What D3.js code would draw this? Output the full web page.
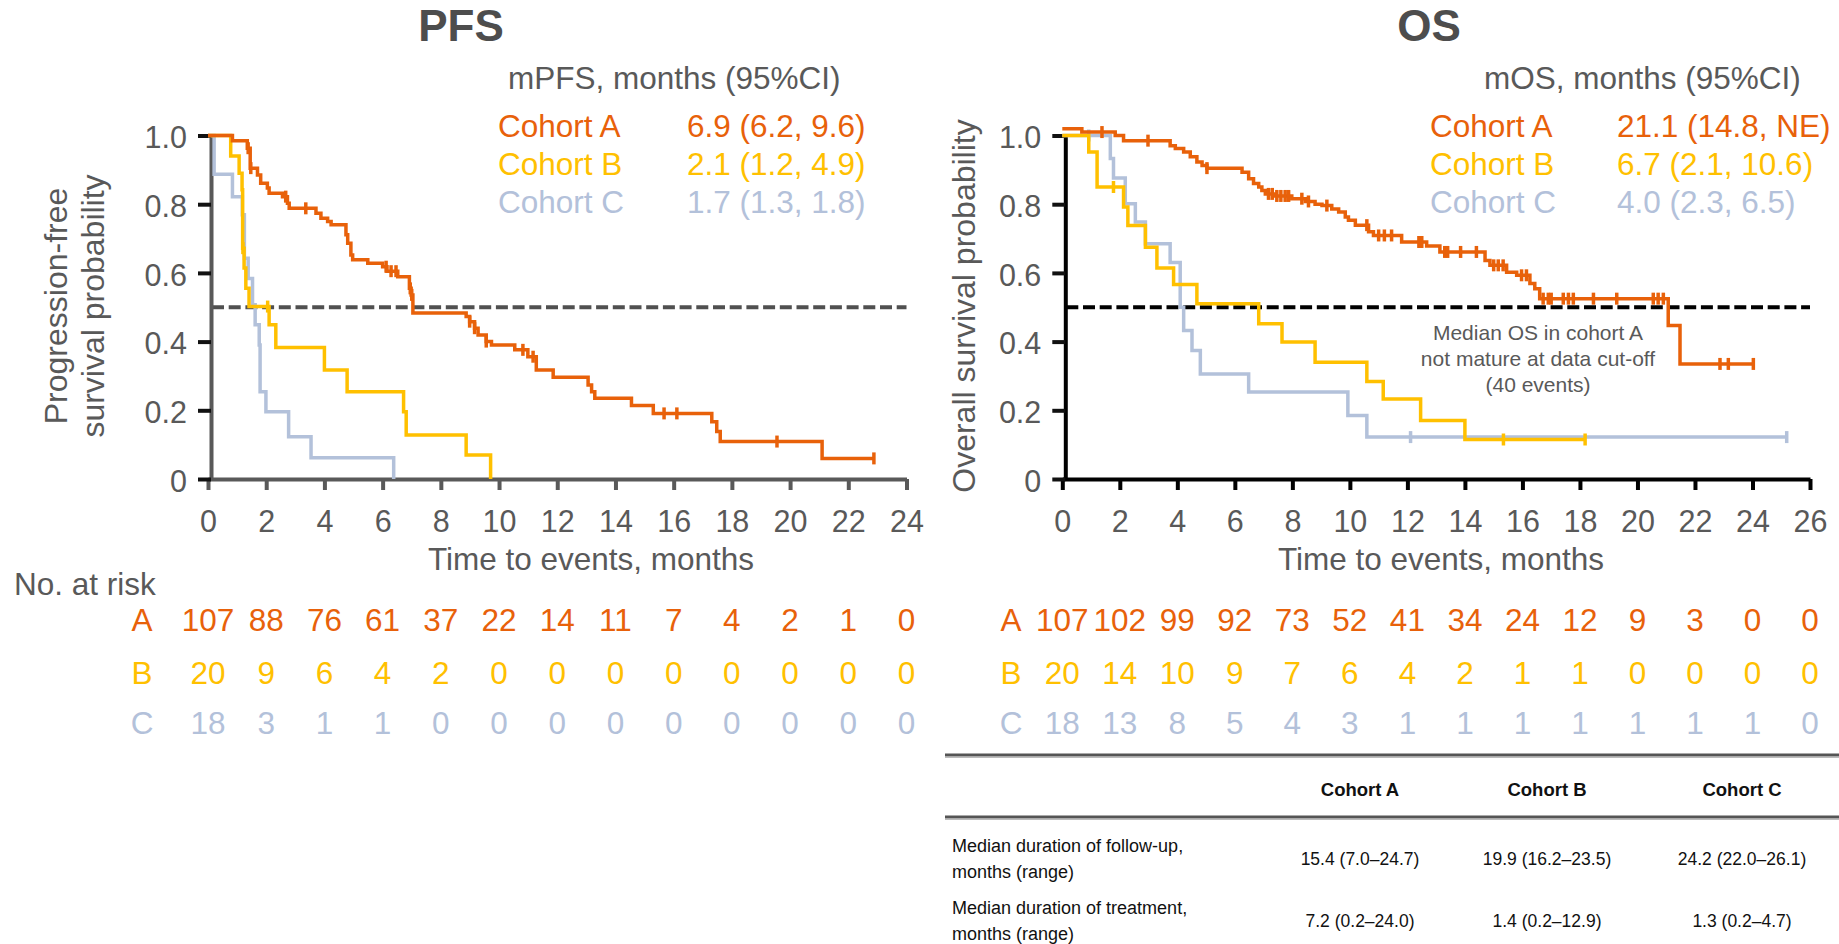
<!DOCTYPE html>
<html>
<head>
<meta charset="utf-8">
<script src="https://cdn.jsdelivr.net/npm/d3@7"></script>
<style>
  body { margin: 0; background: #fff; }
  text { font-family: "Liberation Sans", Arial, sans-serif; }
</style>
</head>
<body>
<div id="chart"></div>
<script>
// ---- values ----
var cohortNames = ["Cohort A", "Cohort B", "Cohort C"];
var riskLetters = ["A", "B", "C"];
var colors = ["#e8610a", "#ffc000", "#b3c1da"];

var yTicks = [0, 0.2, 0.4, 0.6, 0.8, 1.0];
var pfsTicks = [0, 2, 4, 6, 8, 10, 12, 14, 16, 18, 20, 22, 24];
var osTicks = [0, 2, 4, 6, 8, 10, 12, 14, 16, 18, 20, 22, 24, 26];

var pfsMedians = ["6.9 (6.2, 9.6)", "2.1 (1.2, 4.9)", "1.7 (1.3, 1.8)"];
var osMedians = ["21.1 (14.8, NE)", "6.7 (2.1, 10.6)", "4.0 (2.3, 6.5)"];

// Kaplan-Meier steps: [month, probability after the step]
var pfsA = [[0, 1.0], [0.84, 0.985], [1.35, 0.963], [1.45, 0.905], [1.70, 0.885], [1.81, 0.861],
  [2.04, 0.847], [2.10, 0.832], [2.56, 0.822], [2.73, 0.803], [2.79, 0.788], [3.71, 0.774],
  [3.88, 0.759], [4.11, 0.75], [4.23, 0.74], [4.74, 0.711], [4.80, 0.686], [4.91, 0.652],
  [4.97, 0.638], [5.49, 0.628], [6.00, 0.618], [6.15, 0.605], [6.52, 0.589], [6.92, 0.555],
  [6.98, 0.536], [7.04, 0.483], [8.87, 0.473], [8.99, 0.458], [9.16, 0.439], [9.28, 0.419],
  [9.56, 0.40], [9.74, 0.39], [10.54, 0.376], [10.99, 0.356], [11.28, 0.317], [11.86, 0.296],
  [13.06, 0.274], [13.18, 0.254], [13.29, 0.235], [14.55, 0.214], [15.30, 0.191], [17.31, 0.167],
  [17.48, 0.138], [17.60, 0.109], [21.10, 0.06]];
var pfsACensor = [1.38, 1.47, 2.67, 3.36, 6.12, 6.29, 6.46, 6.95, 7.0, 8.99, 9.16, 9.56,
  10.82, 11.17, 15.67, 16.11, 19.55, 22.88];
var pfsB = [[0, 1.0], [0.78, 0.94], [1.07, 0.89], [1.17, 0.842], [1.19, 0.672], [1.24, 0.614],
  [1.30, 0.555], [1.41, 0.502], [2.10, 0.449], [2.33, 0.383], [4.00, 0.317], [4.78, 0.254],
  [6.72, 0.196], [6.81, 0.128], [8.87, 0.07], [9.71, 0]];
var pfsBCensor = [1.2, 2.05];
var pfsC = [[0, 1.0], [0.21, 0.887], [0.84, 0.822], [1.18, 0.769], [1.25, 0.643], [1.38, 0.584],
  [1.53, 0.507], [1.62, 0.449], [1.76, 0.39], [1.79, 0.254], [1.99, 0.196], [2.77, 0.123],
  [3.54, 0.062], [6.38, 0]];
var pfsCCensor = [];
var pfsEnds = [22.88, 9.71, 6.38];

var osA = [[0, 1.02], [0.68, 1.01], [1.84, 1.0], [2.13, 0.985], [3.75, 0.97], [3.93, 0.962],
  [4.22, 0.952], [4.45, 0.938], [4.68, 0.923], [4.86, 0.913], [5.03, 0.905], [6.25, 0.893],
  [6.48, 0.874], [6.65, 0.86], [6.83, 0.85], [6.94, 0.84], [7.06, 0.83], [7.40, 0.824],
  [7.98, 0.816], [8.45, 0.808], [8.79, 0.80], [9.03, 0.796], [9.37, 0.786], [9.61, 0.777],
  [9.84, 0.763], [9.95, 0.753], [10.19, 0.739], [10.65, 0.72], [10.82, 0.709], [11.8, 0.69],
  [12.67, 0.678], [13.13, 0.661], [14.7, 0.636], [14.87, 0.622], [15.45, 0.602], [15.8, 0.593],
  [16.26, 0.569], [16.43, 0.554], [16.6, 0.525], [21.07, 0.447], [21.48, 0.335]];
var osACensor = [1.38, 2.98, 5.03, 7.17, 7.3, 7.46, 7.6, 7.75, 7.87, 8.33, 8.56, 9.2, 10.59,
  11.0, 11.2, 11.45, 12.4, 12.5, 13.3, 13.4, 13.85, 14.4, 15.0, 15.16, 15.33, 15.97, 16.14,
  16.72, 16.9, 17.0, 17.42, 17.6, 17.77, 18.47, 19.28, 20.55, 20.72, 20.9, 22.87, 23.16, 24.03];
var osB = [[0, 1.0], [0.92, 0.952], [1.21, 0.85], [2.13, 0.792], [2.28, 0.738], [2.89, 0.675],
  [3.29, 0.614], [3.87, 0.566], [4.68, 0.51], [6.83, 0.452], [7.64, 0.399], [8.79, 0.34],
  [10.59, 0.284], [11.16, 0.233], [12.46, 0.17], [14.0, 0.115]];
var osBCensor = [1.78, 15.34, 18.18];
var osC = [[0, 1.0], [1.67, 0.933], [1.78, 0.876], [2.19, 0.801], [2.54, 0.748], [2.89, 0.685],
  [3.75, 0.63], [4.10, 0.5], [4.22, 0.432], [4.51, 0.374], [4.80, 0.306], [6.48, 0.253],
  [9.93, 0.185], [10.59, 0.122]];
var osCCensor = [0.92, 12.11, 25.19];
var osEnds = [24.03, 18.18, 25.19];

// numbers at risk
var pfsRiskA = [107, 88, 76, 61, 37, 22, 14, 11, 7, 4, 2, 1, 0];
var pfsRiskB = [20, 9, 6, 4, 2, 0, 0, 0, 0, 0, 0, 0, 0];
var pfsRiskC = [18, 3, 1, 1, 0, 0, 0, 0, 0, 0, 0, 0, 0];
var osRiskA = [107, 102, 99, 92, 73, 52, 41, 34, 24, 12, 9, 3, 0, 0];
var osRiskB = [20, 14, 10, 9, 7, 6, 4, 2, 1, 1, 0, 0, 0, 0];
var osRiskC = [18, 13, 8, 5, 4, 3, 1, 1, 1, 1, 1, 1, 1, 0];

// summary table
var tableHead = ["Cohort A", "Cohort B", "Cohort C"];
var tableRowLabels = [["Median duration of follow-up,", "months (range)"],
                      ["Median duration of treatment,", "months (range)"]];
var followUp = ["15.4 (7.0\u201324.7)", "19.9 (16.2\u201323.5)", "24.2 (22.0\u201326.1)"];
var treatment = ["7.2 (0.2\u201324.0)", "1.4 (0.2\u201312.9)", "1.3 (0.2\u20134.7)"];

var annotation = ["Median OS in cohort A", "not mature at data cut-off", "(40 events)"];

// ---- drawing ----
var W = 1839, H = 944;
var grey = "#595959";

var svg = d3.select("#chart")
  .append("svg")
    .attr("width", W)
    .attr("height", H);

function levelAt(steps, t) {
  var s = steps[0][1];
  steps.forEach(function(d) { if (d[0] <= t) s = d[1]; });
  return s;
}

function drawPanel(p) {
  var xMax = p.xTicks[p.xTicks.length - 1];
  var x = d3.scaleLinear().domain([0, xMax]).range([p.left, p.right]);
  var y = d3.scaleLinear().domain([0, 1]).range([479, 135.5]);
  var g = svg.append("g");

  // title + legend
  g.append("text")
    .attr("x", p.titleX).attr("y", 41)
    .attr("text-anchor", "middle")
    .attr("font-size", 44).attr("font-weight", "bold")
    .attr("fill", "#4d4d4d")
    .text(p.title);

  g.append("text")
    .attr("x", p.headX).attr("y", 89)
    .attr("font-size", 31.5).attr("fill", grey)
    .text(p.head);

  var legendY = [137, 175, 213];
  cohortNames.forEach(function(name, i) {
    g.append("text")
      .attr("x", p.legX).attr("y", legendY[i])
      .attr("font-size", 31.5).attr("fill", colors[i])
      .text(name);
    g.append("text")
      .attr("x", p.valX).attr("y", legendY[i])
      .attr("font-size", 31.5).attr("fill", colors[i])
      .text(p.medians[i]);
  });

  // median reference line
  g.append("line")
    .attr("x1", x(0) + 4).attr("x2", x(xMax))
    .attr("y1", y(0.5)).attr("y2", y(0.5))
    .attr("stroke", p.dashColor)
    .attr("stroke-width", 4)
    .attr("stroke-dasharray", "12,4.7");

  // x axis
  var xAxis = g.append("g")
    .attr("transform", "translate(0,479)")
    .call(d3.axisBottom(x).tickValues(p.xTicks).tickSize(11).tickSizeOuter(0).tickPadding(20));
  xAxis.select(".domain").attr("stroke", p.axisColor).attr("stroke-width", 4);
  xAxis.selectAll(".tick line").attr("stroke", p.axisColor).attr("stroke-width", 4);
  xAxis.selectAll("text")
    .attr("fill", grey).attr("font-size", 30.5)
    .attr("font-family", "'Liberation Sans', Arial, sans-serif");

  // y axis
  var yAxis = g.append("g")
    .attr("transform", "translate(" + (p.left + 3) + ",0)")
    .call(d3.axisLeft(y).tickValues(yTicks).tickSize(13).tickSizeOuter(0).tickPadding(11)
      .tickFormat(function(d) { return d === 0 ? "0" : d3.format(".1f")(d); }));
  yAxis.select(".domain").attr("stroke", p.axisColor).attr("stroke-width", 4);
  yAxis.selectAll(".tick line").attr("stroke", "#111").attr("stroke-width", 4);
  yAxis.selectAll("text")
    .attr("fill", grey).attr("font-size", 30.5).attr("dy", "0.4em")
    .attr("font-family", "'Liberation Sans', Arial, sans-serif");

  // curves, drawn C first so A sits on top
  var line = d3.line()
    .x(function(d) { return x(d[0]); })
    .y(function(d) { return y(d[1]); })
    .curve(d3.curveStepAfter);

  [2, 1, 0].forEach(function(i) {
    var steps = p.curves[i];
    var pts = steps.concat([[p.ends[i], steps[steps.length - 1][1]]]);
    g.append("path")
      .datum(pts)
      .attr("d", line)
      .attr("fill", "none")
      .attr("stroke", colors[i])
      .attr("stroke-width", 3.5);

    g.selectAll(null)
      .data(p.censors[i])
      .enter()
      .append("line")
        .attr("x1", function(d) { return x(d); })
        .attr("x2", function(d) { return x(d); })
        .attr("y1", function(d) { return y(levelAt(steps, d)) - 6; })
        .attr("y2", function(d) { return y(levelAt(steps, d)) + 6; })
        .attr("stroke", colors[i])
        .attr("stroke-width", 3.5);
  });

  // axis titles
  g.append("text")
    .attr("x", p.xTitleX).attr("y", 570)
    .attr("text-anchor", "middle")
    .attr("font-size", 31.5).attr("fill", grey)
    .text("Time to events, months");

  p.yTitle.forEach(function(t, k) {
    g.append("text")
      .attr("transform", "translate(" + p.yTitleX[k] + ",306) rotate(-90)")
      .attr("text-anchor", "middle")
      .attr("font-size", 32).attr("fill", grey)
      .text(t);
  });

  // numbers at risk
  var rowY = [631, 684, 734];
  p.risk.forEach(function(row, i) {
    g.append("text")
      .attr("x", p.riskLetterX).attr("y", rowY[i])
      .attr("text-anchor", "middle")
      .attr("font-size", 31.5).attr("fill", colors[i])
      .text(riskLetters[i]);
    g.selectAll(null)
      .data(row)
      .enter()
      .append("text")
        .attr("x", function(d, j) { return x(p.xTicks[j]); })
        .attr("y", rowY[i])
        .attr("text-anchor", "middle")
        .attr("font-size", 31.5).attr("fill", colors[i])
        .text(function(d) { return d; });
  });

  return {x: x, y: y, g: g};
}

drawPanel({
  title: "PFS", titleX: 461,
  head: "mPFS, months (95%CI)", headX: 508,
  legX: 498, valX: 687, medians: pfsMedians,
  left: 208, right: 906.5, xTicks: pfsTicks,
  axisColor: grey, dashColor: "#505050",
  curves: [pfsA, pfsB, pfsC], censors: [pfsACensor, pfsBCensor, pfsCCensor], ends: pfsEnds,
  xTitleX: 591, yTitle: ["Progression-free", "survival probability"], yTitleX: [67, 104],
  risk: [pfsRiskA, pfsRiskB, pfsRiskC], riskLetterX: 142
});

var os = drawPanel({
  title: "OS", titleX: 1429,
  head: "mOS, months (95%CI)", headX: 1484,
  legX: 1430, valX: 1617, medians: osMedians,
  left: 1062.3, right: 1810, xTicks: osTicks,
  axisColor: "#000", dashColor: "#000",
  curves: [osA, osB, osC], censors: [osACensor, osBCensor, osCCensor], ends: osEnds,
  xTitleX: 1441, yTitle: ["Overall survival probability"], yTitleX: [975],
  risk: [osRiskA, osRiskB, osRiskC], riskLetterX: 1011
});

// note under the OS median line
os.g.selectAll(null)
  .data(annotation)
  .enter()
  .append("text")
    .attr("x", 1538)
    .attr("y", function(d, i) { return 340 + i * 26; })
    .attr("text-anchor", "middle")
    .attr("font-size", 21).attr("fill", grey)
    .text(function(d) { return d; });

svg.append("text")
  .attr("x", 14).attr("y", 595)
  .attr("font-size", 31.5).attr("fill", grey)
  .text("No. at risk");

// summary table
var colX = [1360, 1547, 1742];
var tbl = svg.append("g");
[755, 817].forEach(function(ly) {
  tbl.append("line")
    .attr("x1", 945).attr("x2", W)
    .attr("y1", ly).attr("y2", ly)
    .attr("stroke", "#555").attr("stroke-width", 3);
  tbl.append("line")
    .attr("x1", 945).attr("x2", W)
    .attr("y1", ly + 2.5).attr("y2", ly + 2.5)
    .attr("stroke", "#bbb").attr("stroke-width", 1);
});

tbl.selectAll(".head")
  .data(tableHead)
  .enter()
  .append("text")
    .attr("x", function(d, i) { return colX[i]; })
    .attr("y", 796)
    .attr("text-anchor", "middle")
    .attr("font-size", 18.5).attr("font-weight", "bold").attr("fill", "#111")
    .text(function(d) { return d; });

var rowBase = [852, 914];
[followUp, treatment].forEach(function(vals, r) {
  tableRowLabels[r].forEach(function(t, k) {
    tbl.append("text")
      .attr("x", 952).attr("y", rowBase[r] + k * 26)
      .attr("font-size", 18).attr("fill", "#111")
      .text(t);
  });
  tbl.selectAll(null)
    .data(vals)
    .enter()
    .append("text")
      .attr("x", function(d, i) { return colX[i]; })
      .attr("y", rowBase[r] + 13)
      .attr("text-anchor", "middle")
      .attr("font-size", 17.5).attr("fill", "#111")
      .text(function(d) { return d; });
});
</script>
</body>
</html>
